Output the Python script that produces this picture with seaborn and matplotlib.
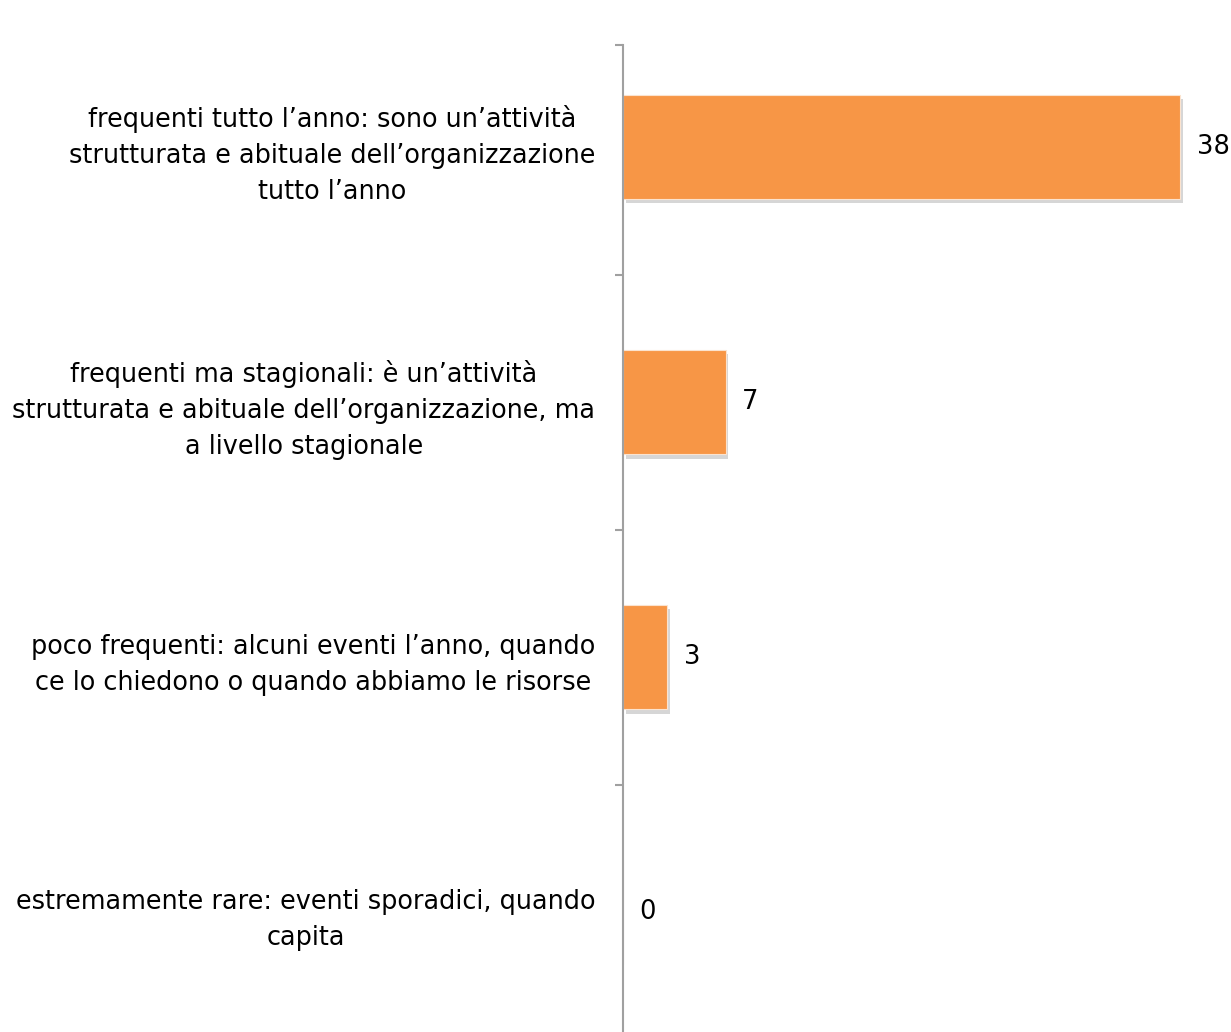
import matplotlib
matplotlib.use("Agg")
import matplotlib.pyplot as plt
import matplotlib.patheffects as pe
import seaborn as sns
import pandas as pd

# Data
categories = [
    "frequenti tutto l\u2019anno: sono un\u2019attivit\u00e0\nstrutturata e abituale dell\u2019organizzazione\ntutto l\u2019anno",
    "frequenti ma stagionali: \u00e8 un\u2019attivit\u00e0\nstrutturata e abituale dell\u2019organizzazione, ma\na livello stagionale",
    "poco frequenti: alcuni eventi l\u2019anno, quando\nce lo chiedono o quando abbiamo le risorse",
    "estremamente rare: eventi sporadici, quando\ncapita",
]
values = [38, 7, 3, 0]

df = pd.DataFrame({"categoria": categories, "valore": values})

sns.set_theme(style="white")
plt.rcParams["font.family"] = ["DejaVu Sans"]

fig = plt.figure(figsize=(12.31, 10.32), dpi=100)
ax = fig.add_axes([623 / 1231, 0.0, 1 - 623 / 1231, 1 - 45 / 1032])

sns.barplot(data=df, y="categoria", x="valore", orient="h", color="#F79646",
            saturation=1, width=0.41, ax=ax, edgecolor="#FBE3CF", linewidth=0.8)

for bar in ax.patches:
    bar.set_path_effects([pe.SimplePatchShadow(offset=(2, -3), shadow_rgbFace="#9a9a9a", alpha=0.4),
                          pe.Normal()])

ax.bar_label(ax.containers[0], labels=[str(v) for v in values], padding=12,
             fontsize=18.5, color="black")

ax.set_xlim(0, 608 / 14.66)
ax.set_ylim(3.47, -0.4)
ax.set_xlabel("")
ax.set_ylabel("")
ax.set_xticks([])

ax.set_yticks(range(len(categories)))
ax.set_yticklabels(categories, fontsize=18.4, multialignment="center",
                   color="black", linespacing=1.5)
ax.tick_params(axis="y", which="major", length=0, pad=20)
ax.set_yticks([-0.4, 0.5, 1.5, 2.5], minor=True)
ax.tick_params(axis="y", which="minor", length=6, width=1.5, color="#A0A0A0", left=True)

for side in ["top", "right", "bottom"]:
    ax.spines[side].set_visible(False)
ax.spines["left"].set_color("#A0A0A0")
ax.spines["left"].set_linewidth(1.5)

fig.savefig("out.png", dpi=100, facecolor="white")
